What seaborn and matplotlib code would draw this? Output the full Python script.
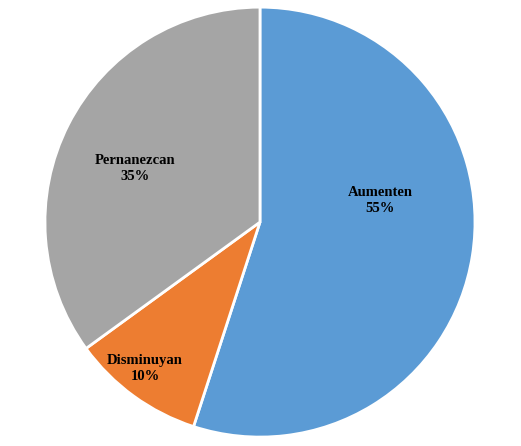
import matplotlib
matplotlib.use("Agg")
import matplotlib.pyplot as plt
import seaborn as sns

sns.set_theme(style="white")
plt.rcParams['font.family'] = ['Liberation Serif', 'DejaVu Serif']

categories = ["Aumenten", "Disminuyan", "Pernanezcan"]
values = [55, 10, 35]
colors = ["#5B9BD5", "#ED7D31", "#A5A5A5"]
label_pos = [(0.56, 0.10), (-0.535, -0.68), (-0.58, 0.25)]

fig = plt.figure(figsize=(5.21, 4.46), dpi=100)
ax = fig.add_axes([0.499 - 0.4127, 0.502 - 0.482, 0.8254, 0.964])
ax.pie(values, colors=colors, startangle=90, counterclock=False,
       wedgeprops=dict(edgecolor="white", linewidth=2))
for c, v, (x, y) in zip(categories, values, label_pos):
    ax.text(x, y, f"{c}\n{v}%", ha="center", va="center",
            fontsize=10.5, fontweight="bold", color="black", linespacing=1.3)
ax.set_xlim(-1, 1); ax.set_ylim(-1, 1)
ax.set_aspect("auto")
fig.savefig("out.png", dpi=100)
